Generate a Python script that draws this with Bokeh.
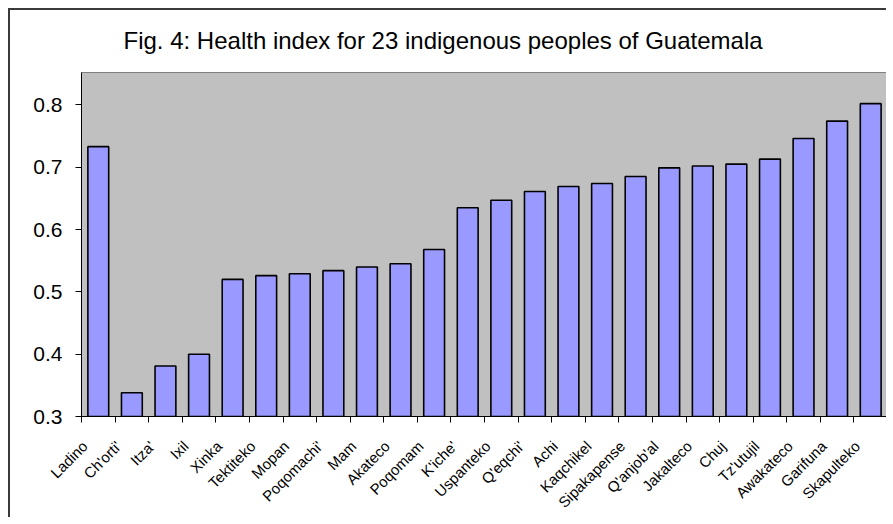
import math
from bokeh.plotting import figure
from bokeh.models import FixedTicker, Range1d, ColumnDataSource
from bokeh.embed import file_html
from bokeh.resources import INLINE

# ---- data ----
peoples = ["Ladino", "Ch'orti'", "Itza'", "Ixil", "Xinka", "Tektiteko", "Mopan",
           "Poqomachi'", "Mam", "Akateco", "Poqomam", "K'iche'", "Uspanteko",
           "Q'eqchi'", "Achi", "Kaqchikel", "Sipakapense", "Q'anjob'al",
           "Jakalteco", "Chuj", "Tz'utujil", "Awakateco", "Garifuna", "Skapulteko"]
health_index = [0.733, 0.338, 0.381, 0.400, 0.520, 0.526, 0.529, 0.534, 0.540,
                0.545, 0.568, 0.635, 0.647, 0.661, 0.669, 0.674, 0.685, 0.699,
                0.702, 0.705, 0.713, 0.746, 0.774, 0.802]
y_ticks = [0.3, 0.4, 0.5, 0.6, 0.7, 0.8]
title_text = "Fig. 4: Health index for 23 indigenous peoples of Guatemala"

n = len(peoples)
centers = [i + 0.5 for i in range(n)]
bounds = [float(i) for i in range(n + 1)]
# rotated labels: anchor a bit left of the bar centre so the label's top-right corner sits at the tick
label_pos = [round(i + 0.1, 2) for i in range(n)]

src = ColumnDataSource(dict(x=centers, top=health_index, name=peoples))

FONT = "Liberation Sans"

p = figure(width=878, height=509, output_backend="svg", toolbar_location=None,
           x_range=Range1d(0, n), y_range=Range1d(0.3, 0.852),
           min_border_left=71, min_border_right=1, min_border_top=61,
           min_border_bottom=103)

p.styles = {"margin-left": "8px", "margin-top": "8px",
            "border-top": "2px solid #3a3a3a", "border-left": "2px solid #3a3a3a"}

p.title.text = title_text
p.title.align = "left"
p.title.vertical_align = "top"
p.title.offset = 42
p.title.standoff = 33
p.title.text_font = FONT
p.title.text_font_size = "24px"
p.title.text_font_style = "normal"
p.title.text_color = "black"

p.background_fill_color = "#C0C0C0"
p.border_fill_color = "white"
p.outline_line_color = "#808080"
p.outline_line_width = 1
p.grid.visible = False

p.vbar(x="x", top="top", bottom=0.3, width=0.62, source=src,
       fill_color="#9999FF", line_color="black", line_width=1.6)

# y axis
yax = p.yaxis[0]
yax.ticker = FixedTicker(ticks=y_ticks, minor_ticks=[])
yax.major_label_text_font = FONT
yax.major_label_text_font_size = "21px"
yax.major_label_text_color = "black"
yax.major_tick_out = 6
yax.major_tick_in = 0
yax.major_label_standoff = 13
yax.axis_line_color = "black"
yax.major_tick_line_color = "black"

# x axis
xax = p.xaxis[0]
xax.ticker = FixedTicker(ticks=label_pos, minor_ticks=bounds)
xax.major_label_overrides = {c: nm for c, nm in zip(label_pos, peoples)}
xax.major_label_orientation = math.pi / 4
xax.major_label_text_font = FONT
xax.major_label_text_font_size = "15px"
xax.major_label_text_color = "black"
xax.major_tick_line_color = None
xax.major_tick_out = 6
xax.major_tick_in = 0
xax.minor_tick_out = 6
xax.minor_tick_in = 0
xax.minor_tick_line_color = "black"
xax.major_label_standoff = 21
xax.axis_line_color = "black"

open("out.html", "w").write(file_html(p, INLINE))
